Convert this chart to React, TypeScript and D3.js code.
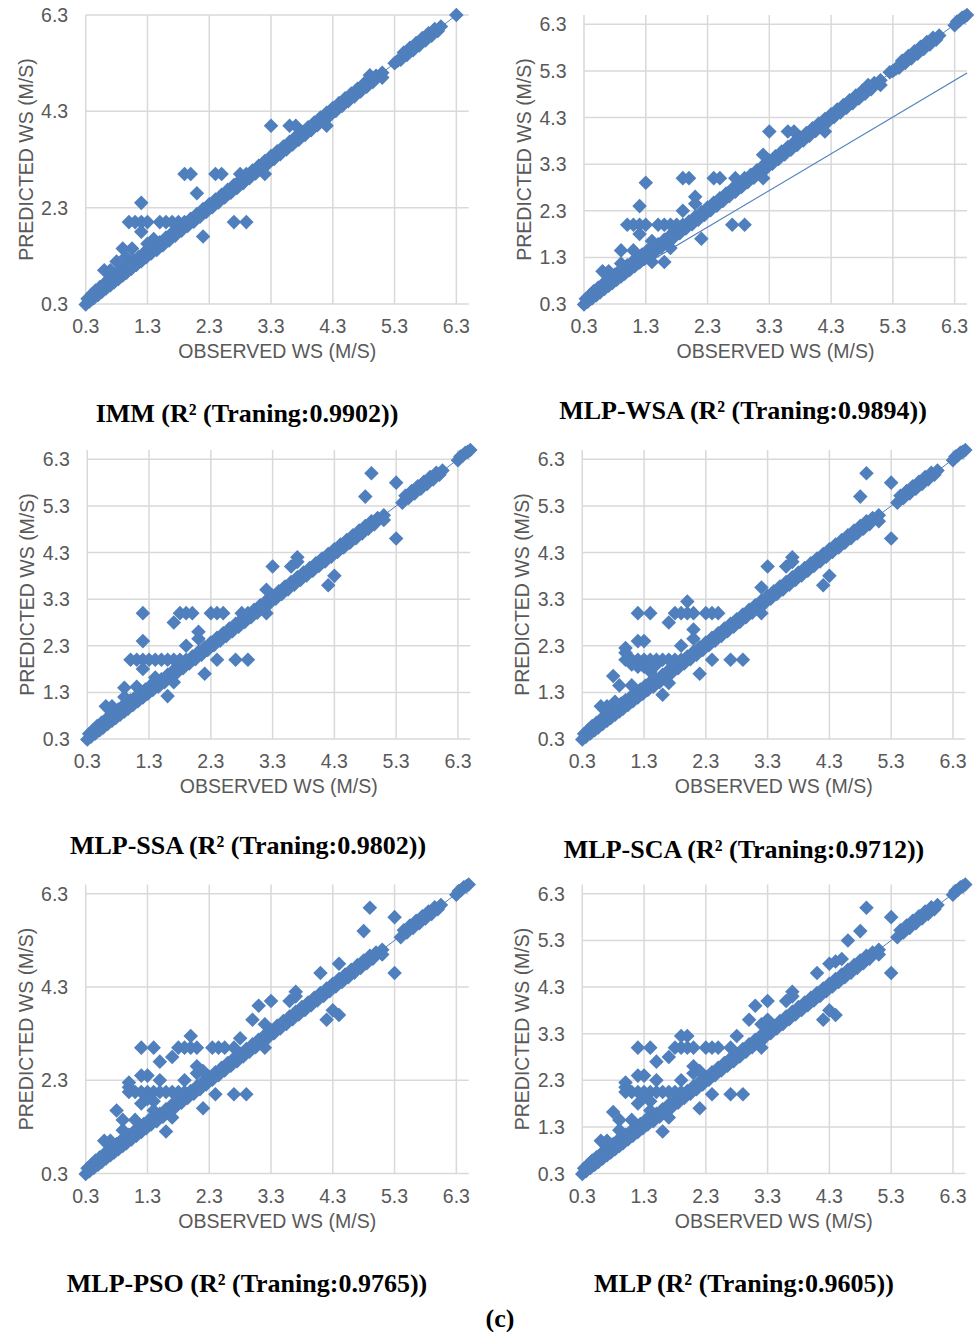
import React from "react";
import * as d3 from "d3";

const WIDTH = 979;
const HEIGHT = 1332;

type Pair = [number, number];

// Observed vs predicted wind speed (m/s) that all models reproduce closely
const bandPoints: Pair[] = [
  [0.3, 0.29], [0.33, 0.41], [0.36, 0.35], [0.4, 0.5], [0.43, 0.42], [0.46, 0.58], [0.5, 0.49], [0.53, 0.65],
  [0.56, 0.55], [0.6, 0.72], [0.63, 0.62], [0.66, 0.79], [0.7, 0.69], [0.73, 0.85], [0.76, 0.75], [0.8, 0.93],
  [0.83, 0.82], [0.86, 0.99], [0.9, 0.89], [0.93, 1.06], [0.96, 0.95], [1.0, 1.13], [1.04, 1.03], [1.08, 1.2],
  [1.12, 1.11], [1.16, 1.28], [1.2, 1.19], [1.24, 1.36], [1.28, 1.27], [1.32, 1.44], [1.36, 1.35], [1.4, 1.52],
  [1.45, 1.42], [1.5, 1.58], [1.55, 1.52], [1.6, 1.68], [1.65, 1.62], [1.7, 1.78], [1.75, 1.72], [1.8, 1.88],
  [1.85, 1.82], [1.9, 1.98], [1.95, 1.92], [2.0, 2.07], [2.05, 2.01], [2.1, 2.17], [2.15, 2.11], [2.2, 2.27],
  [2.25, 2.21], [2.3, 2.37], [2.35, 2.31], [2.4, 2.47], [2.45, 2.41], [2.5, 2.57], [2.55, 2.51], [2.6, 2.67],
  [2.65, 2.61], [2.7, 2.77], [2.75, 2.71], [2.8, 2.87], [2.85, 2.81], [2.9, 2.97], [2.95, 2.91], [3.0, 3.07],
  [3.05, 3.01], [3.1, 3.17], [3.15, 3.11], [3.2, 3.27], [3.25, 3.21], [3.3, 3.37], [3.35, 3.31], [3.4, 3.47],
  [3.45, 3.41], [3.5, 3.57], [3.55, 3.51], [3.6, 3.67], [3.65, 3.61], [3.7, 3.77], [3.75, 3.71], [3.8, 3.87],
  [3.85, 3.81], [3.9, 3.97], [3.95, 3.91], [4.0, 4.07], [4.05, 4.01], [4.1, 4.17], [4.15, 4.11], [4.2, 4.27],
  [4.25, 4.21], [4.3, 4.37], [4.35, 4.31], [4.4, 4.47], [4.45, 4.41], [4.5, 4.57], [4.55, 4.51], [4.6, 4.67],
  [4.65, 4.61], [4.7, 4.77], [4.75, 4.71], [4.8, 4.87], [4.85, 4.81], [4.9, 4.97], [4.95, 4.91], [5.0, 5.04],
  [5.4, 5.37], [5.45, 5.52], [5.5, 5.47], [5.55, 5.62], [5.6, 5.57], [5.65, 5.72], [5.7, 5.67], [5.75, 5.82],
  [5.8, 5.77], [5.85, 5.92], [5.9, 5.87], [5.95, 6.01], [6.0, 5.97], [6.05, 6.06],
];

// Highest observed speeds
const topPoints: Pair[] = [[6.3, 6.28], [6.34, 6.36], [6.38, 6.38], [6.42, 6.44], [6.46, 6.46], [6.5, 6.5]];

const immPoints: Pair[] = [
  [1.9, 3.0], [2.0, 3.0], [2.4, 3.0], [2.5, 3.0], [2.8, 3.0], [2.9, 3.0], [3.2, 3.0],
  [2.1, 2.6], [1.2, 2.4],
  [1.0, 2.0], [1.1, 2.0], [1.2, 2.0], [1.3, 2.0], [1.5, 2.0], [1.6, 2.0], [1.7, 2.0], [1.8, 2.0], [1.9, 2.0],
  [1.2, 1.8], [2.2, 1.7], [2.7, 2.0], [2.9, 2.0], [1.4, 1.65], [1.3, 1.55], [0.9, 1.45], [1.05, 1.45],
  [0.95, 1.28], [0.6, 1.0], [0.7, 1.0], [0.8, 1.18],
  [3.3, 4.0], [3.6, 4.0], [3.7, 4.0], [4.2, 4.0], [4.9, 5.05], [5.1, 5.1], [5.1, 5.0],
  [5.3, 5.3], [5.35, 5.35], [6.3, 6.3],
];

const wsaPoints: Pair[] = [
  [1.3, 2.9], [1.2, 2.4], [1.2, 1.8],
  [1.0, 2.0], [1.1, 2.0], [1.2, 2.0], [1.3, 2.0], [1.5, 2.0], [1.6, 2.0], [1.7, 2.0], [1.8, 2.0], [1.9, 2.0],
  [1.9, 2.3], [1.9, 3.0], [2.0, 3.0], [2.1, 2.6], [2.1, 2.45], [2.4, 3.0], [2.5, 3.0], [2.7, 2.0], [2.9, 2.0],
  [2.2, 1.7], [2.75, 3.0], [2.9, 3.0],
  [3.2, 3.5], [3.2, 3.0], [3.3, 4.0], [3.6, 4.0], [3.7, 4.0], [4.2, 4.0], [4.9, 5.0], [5.1, 5.1], [5.1, 5.0],
  [5.25, 5.27], [5.3, 5.3], [5.35, 5.35],
  [0.6, 1.0], [0.7, 1.0], [0.9, 1.45], [1.1, 1.45], [0.9, 1.17], [1.4, 1.2], [1.6, 1.2], [1.4, 1.65], [1.7, 1.5],
];

const ssaPoints: Pair[] = [
  [1.2, 3.0], [1.2, 2.4], [1.2, 1.8],
  [1.0, 2.0], [1.1, 2.0], [1.2, 2.0], [1.3, 2.0], [1.4, 2.0], [1.5, 2.0], [1.6, 2.0], [1.7, 2.0], [1.8, 2.0], [1.9, 2.0],
  [1.7, 2.8], [1.8, 3.0], [1.9, 3.0], [2.0, 3.0], [1.9, 2.3], [2.1, 2.6], [2.1, 2.45], [2.3, 3.0], [2.4, 3.0],
  [2.5, 3.0], [2.4, 2.0], [2.7, 2.0], [2.9, 2.0], [2.2, 1.7], [2.8, 3.0], [2.9, 3.0],
  [3.2, 3.5], [3.2, 3.0], [3.3, 4.0], [3.6, 4.0], [3.7, 4.2], [3.7, 4.1], [4.2, 3.6], [4.3, 3.8], [4.8, 5.5],
  [4.9, 6.0], [5.1, 5.1], [5.1, 5.0], [5.3, 5.8], [5.3, 4.6],
  [0.6, 1.0], [0.7, 1.0], [0.9, 1.4], [1.1, 1.42], [0.9, 1.2], [1.4, 1.62], [1.6, 1.22], [1.7, 1.52],
];

const scaPoints: Pair[] = [
  [1.2, 3.0], [1.4, 3.0], [2.0, 3.25], [1.8, 3.0], [1.9, 3.0], [2.0, 3.0], [2.1, 3.0], [2.3, 3.0], [2.4, 3.0],
  [2.5, 3.0], [1.7, 2.8], [1.2, 2.4], [1.3, 2.4], [1.9, 2.3], [2.1, 2.65], [2.1, 2.45],
  [1.0, 2.0], [1.1, 2.0], [1.2, 2.0], [1.3, 2.0], [1.4, 2.0], [1.5, 2.0], [1.6, 2.0], [1.7, 2.0], [1.8, 2.0], [1.9, 2.0],
  [1.0, 2.25], [1.0, 2.15], [1.2, 1.85], [1.1, 1.9], [1.3, 1.85], [1.4, 1.75], [1.5, 1.9],
  [2.4, 2.0], [2.7, 2.0], [2.9, 2.0], [2.2, 1.7], [0.8, 1.65], [0.9, 1.45], [1.1, 1.45], [1.6, 1.25], [1.7, 1.5],
  [0.6, 1.0], [0.7, 1.0], [0.83, 1.1], [3.2, 3.55], [3.2, 3.0],
  [3.3, 4.0], [3.6, 4.0], [3.7, 4.2], [3.7, 4.1], [4.2, 3.6], [4.3, 3.8], [4.8, 5.5], [4.9, 6.0], [5.1, 5.1],
  [5.1, 4.97], [5.3, 5.8], [5.3, 4.6],
];

const psoPoints: Pair[] = [
  [1.2, 3.0], [1.4, 3.0], [1.5, 2.7], [1.7, 2.8], [1.8, 3.0], [1.9, 3.0], [2.0, 3.0], [2.1, 3.0], [2.0, 3.25],
  [2.35, 3.0], [2.45, 3.0], [2.55, 3.0],
  [1.2, 2.4], [1.3, 2.4], [1.5, 2.3], [1.9, 2.3], [1.0, 2.25], [1.0, 2.15],
  [1.0, 2.05], [1.1, 2.05], [1.2, 2.05], [1.3, 2.05], [1.4, 2.05], [1.5, 2.05], [1.6, 2.05], [1.7, 2.05], [1.8, 2.05], [1.9, 2.05],
  [1.2, 1.8], [1.3, 1.9], [1.4, 1.85], [2.1, 2.6], [2.1, 2.45], [2.2, 2.5], [2.8, 3.2], [2.7, 3.0],
  [2.4, 2.0], [2.7, 2.0], [2.9, 2.0], [2.2, 1.7],
  [3.0, 3.6], [3.1, 3.9], [3.2, 3.5], [3.2, 3.0], [3.3, 4.0], [3.6, 4.0], [3.7, 4.2], [3.7, 4.1], [4.1, 4.6],
  [4.4, 4.8], [4.2, 3.6], [4.3, 3.8], [4.4, 3.7], [4.8, 5.5], [4.9, 6.0], [5.1, 5.1], [5.1, 5.0], [5.3, 5.8], [5.3, 4.6],
  [0.6, 1.0], [0.7, 1.0], [0.8, 1.65], [0.9, 1.45], [1.1, 1.45], [0.9, 1.23], [1.6, 1.2], [1.7, 1.5], [1.4, 1.65],
];

const mlpPoints: Pair[] = [
  [1.2, 3.0], [1.4, 3.0], [1.5, 2.7], [1.7, 2.8], [1.9, 3.25], [2.0, 3.25], [1.8, 3.0], [1.9, 3.0], [2.0, 3.0],
  [2.1, 3.0], [2.3, 3.0], [2.4, 3.0], [2.5, 3.0],
  [1.2, 2.4], [1.3, 2.4], [1.5, 2.3], [1.9, 2.3], [1.0, 2.25], [1.0, 2.15],
  [1.0, 2.05], [1.1, 2.05], [1.2, 2.05], [1.3, 2.05], [1.4, 2.05], [1.5, 2.05], [1.6, 2.05], [1.7, 2.05], [1.8, 2.05], [1.9, 2.05],
  [1.2, 1.8], [1.3, 1.95], [1.4, 1.85], [2.1, 2.6], [2.1, 2.45], [2.2, 2.5], [2.8, 3.25], [2.7, 3.0],
  [2.4, 2.0], [2.7, 2.0], [2.9, 2.0], [2.2, 1.7],
  [3.0, 3.6], [3.1, 3.9], [3.2, 3.5], [3.3, 3.6], [3.2, 3.0], [3.3, 4.0], [3.6, 4.0], [3.7, 4.2], [3.7, 4.1],
  [4.1, 4.6], [4.3, 4.8], [4.4, 4.85], [4.5, 4.9], [4.6, 5.3], [4.8, 5.5], [4.9, 6.0], [4.2, 3.6], [4.3, 3.8],
  [4.4, 3.7], [5.1, 5.1], [5.1, 5.0], [5.3, 5.8], [5.3, 4.6],
  [0.6, 1.0], [0.7, 1.0], [0.8, 1.62], [0.9, 1.45], [1.1, 1.45], [0.9, 1.23], [1.6, 1.2], [1.7, 1.5], [1.4, 1.65],
];

const modelNames = ["IMM", "MLP-WSA", "MLP-SSA", "MLP-SCA", "MLP-PSO", "MLP"];
const trainingR2 = ["0.9902", "0.9894", "0.9802", "0.9712", "0.9765", "0.9605"];

const xTicks = [0.3, 1.3, 2.3, 3.3, 4.3, 5.3, 6.3];
const yTicksFine = [0.3, 1.3, 2.3, 3.3, 4.3, 5.3, 6.3];
const yTicksCoarse = [0.3, 2.3, 4.3, 6.3];

// Extra fitted line shown for MLP-WSA: predicted = slope * observed + intercept
const wsaFit = { slope: 0.787, intercept: 0.138 };

const BLUE = "#4f7fbc";
const GRID = "#d9d9d9";
const AXIS_TEXT = "#595959";
const SANS = "'Liberation Sans', Arial, sans-serif";
const SERIF = "'Liberation Serif', 'Times New Roman', serif";

const PLOT_W = 383;
const PLOT_H = 289;

interface PanelSpec {
  points: Pair[];
  left: number;
  top: number;
  yMax: number;
  yTicks: number[];
  titleX: number;
  titleY: number;
  extraFit?: { slope: number; intercept: number };
}

const panels: PanelSpec[] = [
  { points: [...bandPoints, ...immPoints], left: 85.7, top: 15, yMax: 6.3, yTicks: yTicksCoarse, titleX: 247, titleY: 422 },
  { points: [...bandPoints, ...wsaPoints, ...topPoints], left: 584, top: 15, yMax: 6.5, yTicks: yTicksFine, titleX: 743, titleY: 419, extraFit: wsaFit },
  { points: [...bandPoints, ...ssaPoints, ...topPoints], left: 87.3, top: 450, yMax: 6.5, yTicks: yTicksFine, titleX: 248, titleY: 854 },
  { points: [...bandPoints, ...scaPoints, ...topPoints], left: 582.3, top: 450, yMax: 6.5, yTicks: yTicksFine, titleX: 744, titleY: 858 },
  { points: [...bandPoints, ...psoPoints, ...topPoints], left: 85.7, top: 884.5, yMax: 6.5, yTicks: yTicksCoarse, titleX: 247, titleY: 1292 },
  { points: [...bandPoints, ...mlpPoints, ...topPoints], left: 582.3, top: 884.5, yMax: 6.5, yTicks: yTicksFine, titleX: 744, titleY: 1292 },
];

const diamondPath = d3.symbol().type(d3.symbolSquare).size(106)() as string;

function Panel({ spec, index }: { spec: PanelSpec; index: number }) {
  const x = d3.scaleLinear().domain([0.3, 6.5]).range([spec.left, spec.left + PLOT_W]);
  const y = d3.scaleLinear().domain([0.3, spec.yMax]).range([spec.top + PLOT_H, spec.top]);
  const bottom = spec.top + PLOT_H;
  const lineEnd = Math.min(6.5, spec.yMax);
  const line = d3.line<number>().x((v) => x(v)).y((v) => y(v));
  return (
    <g>
      {spec.yTicks.map((t) => (
        <line key={"h" + t} x1={spec.left} x2={spec.left + PLOT_W} y1={y(t)} y2={y(t)} stroke={GRID} strokeWidth={1.5} />
      ))}
      {xTicks.map((t) => (
        <line key={"v" + t} x1={x(t)} x2={x(t)} y1={spec.top} y2={bottom} stroke={GRID} strokeWidth={1.5} />
      ))}
      {spec.points.map(([o, p], i) => (
        <path key={i} d={diamondPath} transform={`translate(${x(o)},${y(p)}) rotate(45)`} fill={BLUE} />
      ))}
      <path d={line([0.3, lineEnd]) as string} stroke={BLUE} strokeWidth={1} fill="none" />
      {spec.extraFit && (
        <line
          x1={x(0.3)}
          y1={y(spec.extraFit.slope * 0.3 + spec.extraFit.intercept)}
          x2={x(6.5)}
          y2={y(spec.extraFit.slope * 6.5 + spec.extraFit.intercept)}
          stroke={BLUE}
          strokeWidth={1.2}
        />
      )}
      {xTicks.map((t) => (
        <text key={"xt" + t} x={x(t)} y={bottom + 29} textAnchor="middle" fontFamily={SANS} fontSize={19.5} fill={AXIS_TEXT}>
          {t.toFixed(1)}
        </text>
      ))}
      {spec.yTicks.map((t) => (
        <text key={"yt" + t} x={spec.left - 17.5} y={y(t) + 7} textAnchor="end" fontFamily={SANS} fontSize={19.5} fill={AXIS_TEXT}>
          {t.toFixed(1)}
        </text>
      ))}
      <text x={spec.left + PLOT_W / 2} y={bottom + 54} textAnchor="middle" fontFamily={SANS} fontSize={19.5} fill={AXIS_TEXT}>
        OBSERVED WS (M/S)
      </text>
      <text
        transform={`translate(${spec.left - 53},${spec.top + PLOT_H / 2}) rotate(-90)`}
        textAnchor="middle"
        fontFamily={SANS}
        fontSize={19.5}
        fill={AXIS_TEXT}
      >
        PREDICTED WS (M/S)
      </text>
      <text x={spec.titleX} y={spec.titleY} textAnchor="middle" fontFamily={SERIF} fontWeight="bold" fontSize={26} fill="#000">
        {`${modelNames[index]} (R² (Traning:${trainingR2[index]}))`}
      </text>
    </g>
  );
}

export default function App() {
  return (
    <svg
      width={WIDTH}
      height={HEIGHT}
      viewBox={`0 0 ${WIDTH} ${HEIGHT}`}
      style={{ position: "absolute", left: 0, top: 0, background: "#fff", display: "block" }}
    >
      <rect x={0} y={0} width={WIDTH} height={HEIGHT} fill="#fff" />
      {panels.map((p, i) => (
        <Panel key={i} spec={p} index={i} />
      ))}
      <text x={500} y={1327} textAnchor="middle" fontFamily={SERIF} fontWeight="bold" fontSize={26} fill="#000">
        (c)
      </text>
    </svg>
  );
}
